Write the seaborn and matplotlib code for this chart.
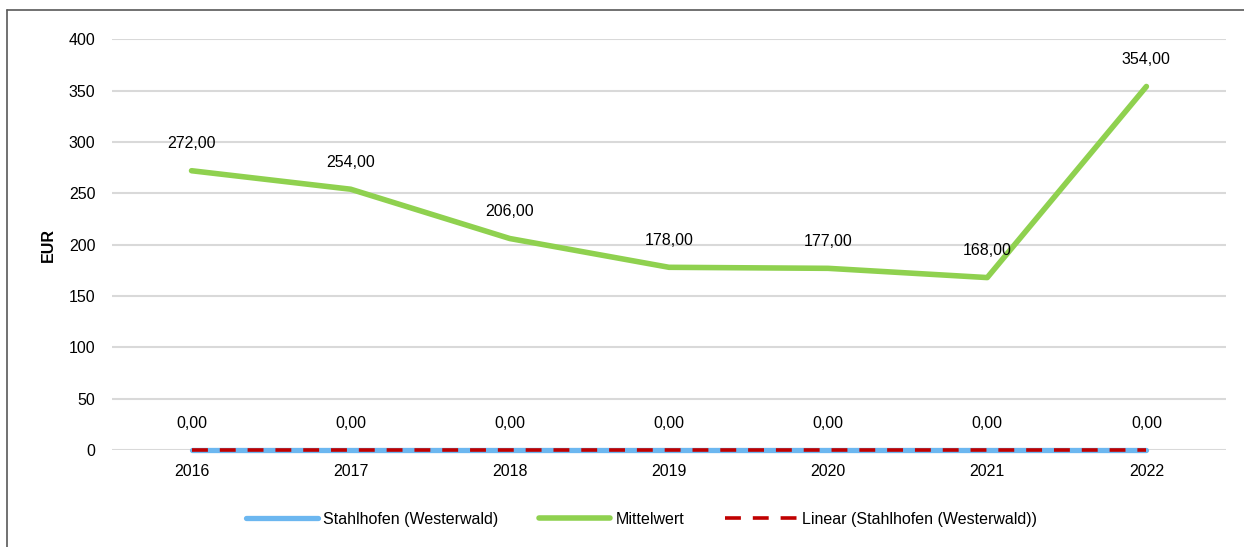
import matplotlib
matplotlib.use("Agg")
import matplotlib.pyplot as plt
from matplotlib.lines import Line2D
import seaborn as sns
import pandas as pd
import numpy as np

years = ["2016", "2017", "2018", "2019", "2020", "2021", "2022"]
stahlhofen = [0.0, 0.0, 0.0, 0.0, 0.0, 0.0, 0.0]
mittelwert = [272.0, 254.0, 206.0, 178.0, 177.0, 168.0, 354.0]
y_ticks = [0, 50, 100, 150, 200, 250, 300, 350, 400]

series_names = ["Stahlhofen (Westerwald)", "Mittelwert", "Linear (Stahlhofen (Westerwald))"]
c_blue = "#6cb7f0"
c_green = "#8fd14f"
c_red = "#c00000"
dash_pattern = [4.4, 3.3]

sns.set_theme(style="white")
plt.rcParams["font.family"] = ["Liberation Sans", "DejaVu Sans"]

fig = plt.figure(figsize=(12.44, 5.47), dpi=100)
ax = fig.add_axes([0.090, 0.177, 0.8955, 0.7513])

x = np.arange(len(years))
df = pd.DataFrame({"x": x, "Stahlhofen": stahlhofen, "Mittelwert": mittelwert})

# linear trend of the Stahlhofen series
coef = np.polyfit(x, stahlhofen, 1)
df["Trend"] = np.polyval(coef, x)

sns.lineplot(data=df, x="x", y="Stahlhofen", ax=ax, color=c_blue, linewidth=3.8,
             solid_capstyle="round", zorder=3, clip_on=False)
sns.lineplot(data=df, x="x", y="Mittelwert", ax=ax, color=c_green, linewidth=4.0,
             solid_capstyle="round", zorder=3, clip_on=False)
sns.lineplot(data=df, x="x", y="Trend", ax=ax, color=c_red, linewidth=2.6,
             zorder=4, clip_on=False)
ax.lines[-1].set_dashes(dash_pattern)
ax.lines[-1].set_dash_capstyle("butt")

# value labels
for xi, v in zip(x, mittelwert):
    ax.annotate(f"{v:.2f}".replace(".", ","), (xi, v), xytext=(0, 14),
                textcoords="offset points", ha="center", va="bottom", fontsize=11.5,
                color="#000000")
for xi, v in zip(x, stahlhofen):
    ax.annotate(f"{v:.2f}".replace(".", ","), (xi, v), xytext=(0, 14),
                textcoords="offset points", ha="center", va="bottom", fontsize=11.5,
                color="#000000")

ax.set_xlim(-0.5, len(years) - 0.5)
ax.set_ylim(0, 400)
ax.set_xticks(x)
ax.set_xticklabels(years)
ax.set_yticks(y_ticks)
ax.tick_params(axis="both", labelsize=11.5, colors="#000000", length=0)
ax.tick_params(axis="x", pad=10)
ax.tick_params(axis="y", pad=12)
ax.set_xlabel("")
ax.set_ylabel("EUR", fontsize=11.5, fontweight="bold", labelpad=9, color="#000000")
ax.yaxis.grid(True, color="#d9d9d9", linewidth=1.5)
ax.set_axisbelow(True)
for s in ax.spines.values():
    s.set_visible(False)

handles = [
    Line2D([], [], color=c_blue, linewidth=3.8, solid_capstyle="round"),
    Line2D([], [], color=c_green, linewidth=4.0, solid_capstyle="round"),
    Line2D([], [], color=c_red, linewidth=2.6, dashes=dash_pattern, dash_capstyle="butt"),
]
fig.legend(handles, series_names, loc="center", bbox_to_anchor=(0.5157, 0.051), ncol=3,
           frameon=False, fontsize=11.5, handlelength=4.5, columnspacing=2.5,
           handletextpad=0.35, labelcolor="#000000")

# outer frame (left and top edges)
fig.add_artist(Line2D([7 / 1244, 7 / 1244], [0, 1 - 10 / 547], transform=fig.transFigure,
                      color="#595959", linewidth=1.2))
fig.add_artist(Line2D([7 / 1244, 1], [1 - 10 / 547, 1 - 10 / 547], transform=fig.transFigure,
                      color="#595959", linewidth=1.2))

fig.savefig("out.png", dpi=100, facecolor="white")
